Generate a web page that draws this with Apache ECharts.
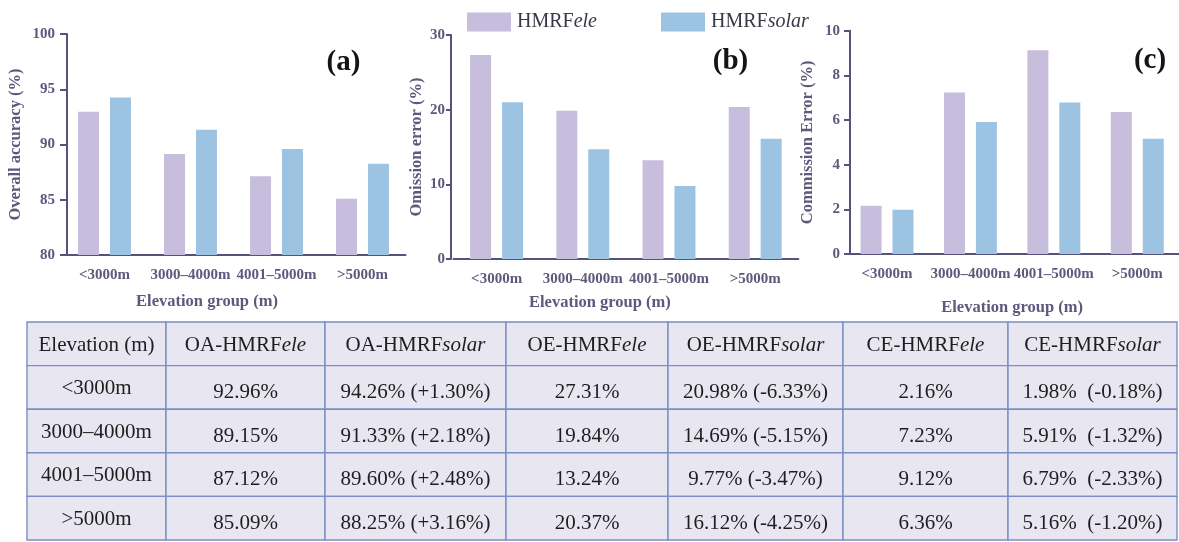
<!DOCTYPE html>
<html>
<head>
<meta charset="utf-8">
<script src="https://cdn.jsdelivr.net/npm/echarts@6/dist/echarts.min.js"></script>
<style>
  html, body { margin: 0; padding: 0; background: #ffffff; }
  #chart { width: 1179px; height: 542px; }
</style>
</head>
<body>
<div id="chart"></div>
<script>
// ---------------- data ----------------
const categories = ['<3000m', '3000–4000m', '4001–5000m', '>5000m'];
const seriesNames = ['HMRFele', 'HMRFsolar'];
const oaEle   = [92.96, 89.15, 87.12, 85.09];
const oaSolar = [94.26, 91.33, 89.60, 88.25];
const oeEle   = [27.31, 19.84, 13.24, 20.37];
const oeSolar = [20.98, 14.69, 9.77, 16.12];
const ceEle   = [2.16, 7.23, 9.12, 6.36];
const ceSolar = [1.98, 5.91, 6.79, 5.16];
const yTitles = ['Overall accuracy (%)', 'Omission error (%)', 'Commission Error (%)'];
const panelLetters = ['(a)', '(b)', '(c)'];
const yRanges = [[80, 100, 5], [0, 30, 10], [0, 10, 2]];
const tableHeader = ['Elevation (m)', 'OA-HMRF{i|ele}', 'OA-HMRF{i|solar}', 'OE-HMRF{i|ele}',
                     'OE-HMRF{i|solar}', 'CE-HMRF{i|ele}', 'CE-HMRF{i|solar}'];
const xTitle = 'Elevation group (m)';

// ---------------- layout / style ----------------
const SERIF = '"Liberation Serif", "Times New Roman", serif';
const AXIS_COLOR = '#56537a';
const LABEL_COLOR = '#5d597c';
const ELE_COLOR = '#c6bedc';
const SOLAR_COLOR = '#9dc3e2';

const panels = [
  { grid: { left: 61.5, top: 34, width: 344, height: 221 }, yOffset: -5.5, tickLen: 7, labelMargin: 12,
    nameGap: 42.5, xNameGap: 38, xNamePad: 53, letter: [343.5, 63], ele: oaEle, solar: oaSolar },
  { grid: { left: 453.5, top: 35, width: 344.8, height: 224 }, yOffset: 2.5, tickLen: 5, labelMargin: 6,
    nameGap: 25.5, xNameGap: 35, xNamePad: 52, letter: [730.5, 62], ele: oeEle, solar: oeSolar },
  { grid: { left: 845.3, top: 30.7, width: 345, height: 223.3 }, yOffset: -4.7, tickLen: 6, labelMargin: 10,
    nameGap: 33.5, xNameGap: 45, xNamePad: 0, letter: [1150, 61], ele: ceEle, solar: ceSolar }
];

// table column edges (relative to table left)
const colEdges = [0, 139, 298, 479, 641, 816, 981, 1150];
const tableBox = { left: 27, top: 322, width: 1150, height: 218 };

function pct(v) { return v.toFixed(2) + '%'; }
function diff(a, b) { const d = b - a; return (d >= 0 ? '+' : '') + d.toFixed(2) + '%'; }

function cellText(r, c) {
  if (r === 0) return tableHeader[c];
  const i = r - 1;
  switch (c) {
    case 0: return categories[i];
    case 1: return pct(oaEle[i]);
    case 2: return pct(oaSolar[i]) + ' (' + diff(oaEle[i], oaSolar[i]) + ')';
    case 3: return pct(oeEle[i]);
    case 4: return pct(oeSolar[i]) + ' (' + diff(oeEle[i], oeSolar[i]) + ')';
    case 5: return pct(ceEle[i]);
    case 6: return pct(ceSolar[i]) + '  (' + diff(ceEle[i], ceSolar[i]) + ')';
  }
  return '';
}

const grids = [], xAxes = [], yAxes = [], series = [], graphics = [];

panels.forEach(function (p, k) {
  grids.push(Object.assign({}, p.grid));
  xAxes.push({
    type: 'category', gridIndex: k, data: categories, boundaryGap: true,
    axisLine: { lineStyle: { color: AXIS_COLOR, width: 2 } },
    axisTick: { alignWithLabel: true, length: 7, lineStyle: { color: AXIS_COLOR, width: 2 } },
    axisLabel: { color: LABEL_COLOR, fontFamily: SERIF, fontWeight: 'bold', fontSize: 15, margin: 13, interval: 0 },
    name: xTitle, nameLocation: 'middle', nameGap: p.xNameGap,
    nameTextStyle: { color: LABEL_COLOR, fontFamily: SERIF, fontWeight: 'bold', fontSize: 16.5,
                     padding: [0, p.xNamePad, 0, 0] }
  });
  yAxes.push({
    type: 'value', gridIndex: k, min: yRanges[k][0], max: yRanges[k][1], interval: yRanges[k][2],
    offset: p.yOffset,
    splitLine: { show: false },
    axisLine: { show: true, lineStyle: { color: AXIS_COLOR, width: 2 } },
    axisTick: { show: true, length: p.tickLen, lineStyle: { color: AXIS_COLOR, width: 2 } },
    axisLabel: { color: LABEL_COLOR, fontFamily: SERIF, fontWeight: 'bold', fontSize: 15, margin: p.labelMargin },
    name: yTitles[k], nameLocation: 'middle', nameGap: p.nameGap,
    nameTextStyle: { color: LABEL_COLOR, fontFamily: SERIF, fontWeight: 'bold', fontSize: 16.5 }
  });
  series.push({
    type: 'bar', name: seriesNames[0], xAxisIndex: k, yAxisIndex: k, data: p.ele,
    barWidth: 21, barGap: '52%', itemStyle: { color: ELE_COLOR }, silent: true
  });
  series.push({
    type: 'bar', name: seriesNames[1], xAxisIndex: k, yAxisIndex: k, data: p.solar,
    barWidth: 21, barGap: '52%', itemStyle: { color: SOLAR_COLOR }, silent: true
  });
  graphics.push({
    type: 'text', x: p.letter[0], y: p.letter[1], silent: true,
    style: { text: panelLetters[k], font: 'bold 29px ' + SERIF, fill: '#141414',
             textAlign: 'center', textVerticalAlign: 'middle', align: 'center', verticalAlign: 'middle' }
  });
});

// ---------------- table (custom series on hidden axes) ----------------
grids.push(Object.assign({}, tableBox));
xAxes.push({ type: 'value', gridIndex: 3, min: 0, max: colEdges[colEdges.length - 1], show: false });
yAxes.push({ type: 'category', gridIndex: 3, data: ['h'].concat(categories), inverse: true, show: false });

const cells = [];
for (let r = 0; r < categories.length + 1; r++) {
  for (let c = 0; c < tableHeader.length; c++) cells.push([c, r]);
}

series.push({
  type: 'custom', xAxisIndex: 3, yAxisIndex: 3, data: cells, silent: true,
  renderItem: function (params, api) {
    const c = api.value(0), r = api.value(1);
    const p0 = api.coord([colEdges[c], r]);
    const p1 = api.coord([colEdges[c + 1], r]);
    const h = api.size([0, 1])[1];
    const off = r === 0 ? 2 : (c === 0 ? 1 : 5);
    return {
      type: 'group',
      children: [
        { type: 'rect', shape: { x: p0[0], y: p0[1] - h / 2, width: p1[0] - p0[0], height: h },
          style: { fill: '#e8e6f1', stroke: '#7b8ec5', lineWidth: 1.4 } },
        { type: 'text', x: (p0[0] + p1[0]) / 2, y: p0[1] + off,
          style: { text: cellText(r, c), fontFamily: SERIF, fontSize: 21, fill: '#1e1e1e',
                   textAlign: 'center', textVerticalAlign: 'middle', align: 'center', verticalAlign: 'middle',
                   rich: { i: { fontFamily: SERIF, fontSize: 21, fontStyle: 'italic', fill: '#1e1e1e', color: '#1e1e1e' } } } }
      ]
    };
  }
});

const option = {
  backgroundColor: '#ffffff',
  animation: false,
  grid: grids,
  xAxis: xAxes,
  yAxis: yAxes,
  legend: {
    data: seriesNames, left: 462, top: 7, itemWidth: 44, itemHeight: 19, itemGap: 64, icon: 'rect',
    selectedMode: false,
    formatter: function (name) { return 'HMRF{i|' + name.slice(4) + '}'; },
    textStyle: { fontFamily: SERIF, fontSize: 20, color: '#3a3848', padding: [0, 0, 0, 1],
                 rich: { i: { fontFamily: SERIF, fontSize: 20, fontStyle: 'italic', color: '#3a3848' } } }
  },
  graphic: graphics,
  series: series
};

const chart = echarts.init(document.getElementById('chart'), null, { renderer: 'canvas' });
chart.setOption(option);
</script>
</body>
</html>
